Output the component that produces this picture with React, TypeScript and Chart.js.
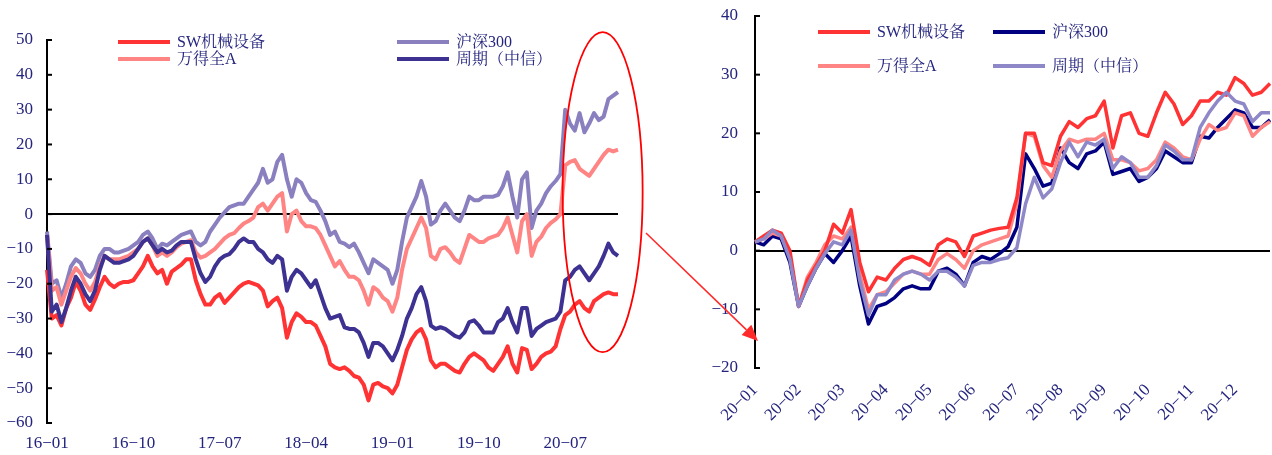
import React, { useEffect, useRef } from 'react';
import { Chart, registerables } from 'chart.js';

Chart.register(...registerables);

const FONT = "'Liberation Serif', 'Noto Serif CJK SC', 'Noto Sans CJK SC', serif";
const TEXT_COLOR = '#24247e';

const MONTHS = ['01', '02', '03', '04', '05', '06', '07', '08', '09', '10', '11', '12'];
const LEFT_YEARS = ['16', '17', '18', '19', '20'];
const LEFT_TICK_LABELS = ['16-01', '16-10', '17-07', '18-04', '19-01', '19-10', '20-07'];
const RIGHT_TICK_LABELS = MONTHS.map((m) => `20-${m}`);

const SERIES_NAMES = ['SW机械设备', '万得全A', '沪深300', '周期（中信）'];

// left panel: 2016-01 .. 2020-12, two readings per month
const leftLabels: string[] = LEFT_YEARS.flatMap((y) => MONTHS.flatMap((m) => [`${y}-${m}`, `${y}-${m}`]));
// right panel: 2020, five readings per month
const rightLabels: string[] = MONTHS.flatMap((m) => [`20-${m}`, `20-${m}`, `20-${m}`, `20-${m}`, `20-${m}`]);

const leftSW = [
  -16, -30, -29, -32, -27, -24, -19.5, -22, -26, -27.5,
  -24.5, -21, -18, -20, -21, -20, -19.5, -19.5, -19, -17,
  -15, -12, -15, -17, -16, -20, -16.5, -15.5, -14.5, -13,
  -13, -19, -23, -26, -26, -24, -23, -25.5, -24, -22.5,
  -21, -20, -19.5, -20, -20.5, -22, -26.5, -25, -24, -27,
  -35.5, -31, -28.5, -29.5, -31, -31, -32, -35, -38, -43,
  -44, -44.5, -44, -45, -46.5, -47, -49, -53.5, -49, -48.5,
  -49.5, -50, -51.5, -49, -44, -39, -36, -34, -33, -36,
  -42, -44, -43, -43, -44, -45, -45.5, -43, -41, -40,
  -41, -42, -44, -45, -43, -41, -38, -43, -45.5, -38.5,
  -39, -44.5, -43, -41, -40, -39.5, -38, -33, -29, -28,
  -26, -25, -27, -28, -25, -24, -23, -22.5, -23, -23,
];
const leftWindA = [
  -6, -22, -21, -26, -22, -18, -15.5, -17, -20, -22,
  -19.5, -15, -12, -13, -13, -13, -12.5, -12, -11, -10,
  -8, -7, -9, -12, -11, -12, -11, -9.5, -8.5, -8,
  -7.5, -11, -12.5, -12, -11, -10, -8.5, -7, -6, -5.5,
  -4, -2.7, -2, -1, 2, 3, 1, 3, 5, 6,
  -5, 0, 1, -2, -3.5, -3.5, -4, -6, -9, -12,
  -15, -13.5, -16, -18, -18, -19, -22, -26, -21, -22,
  -24, -25, -28, -24, -16, -10, -7, -4, -1, -4,
  -12, -13, -10, -9.5, -11, -13, -14, -10, -6, -7,
  -8, -8, -7, -6.5, -6, -4, -1, -6, -11, -2,
  0, -12, -8, -6.5, -4, -2.5, -1.5, 0, 14, 15,
  15.5, 13, 12, 11, 13, 15, 17, 18.5, 18, 18.5,
];
const leftHS300 = [
  -5, -20, -19, -24, -20, -15, -13, -14, -17, -18,
  -16, -12, -10, -10, -11, -11, -10.5, -10, -9, -8,
  -6, -5, -7, -10, -8.5, -9, -8, -7, -6, -5.5,
  -5, -8, -9, -8, -5, -3, -1, 0.5, 2, 2.5,
  3, 3, 5, 7, 9, 13, 9, 10, 15, 17,
  10, 5, 10, 9, 6, 4, 3.5, 1, -2, -6,
  -5, -8, -8.5, -9.5, -8.5, -11, -14, -17, -13, -14,
  -15, -16, -20, -16, -8, -1, 2, 5, 9.5, 5,
  -3, -2, 1, 3, 1, -1, -2, 1, 5, 4,
  4, 5, 5, 5, 5.5, 8, 12, 5, -1, 10,
  12, -4, 1, 3, 6, 8, 9.5, 11.5, 30, 26,
  24, 29, 23.5, 26, 29, 27, 28, 33, 34, 35,
];
const leftCycle = [
  -6, -28, -26, -31, -27, -22, -18, -20, -23, -25,
  -22, -16, -12, -13, -14, -14, -13.5, -13, -12, -10,
  -8, -7, -9, -11, -10, -11, -10.5, -9, -8, -8,
  -8, -13, -17, -19.5, -18, -15, -13, -12, -11.5, -10,
  -8, -7, -8, -8, -10, -11, -13, -14, -12, -13,
  -22, -18, -16, -17, -19, -21, -19, -23, -27, -30,
  -29.5, -29, -32.5, -33, -33, -34, -37, -41, -37, -37,
  -38, -40, -42, -39, -35, -30, -27, -23, -21, -25,
  -32, -33, -32.5, -33, -34, -35, -35.5, -34, -31, -30.5,
  -32, -34, -34, -34, -31, -30, -27, -31, -34, -27,
  -27, -35, -33, -32, -31, -30.5, -30, -28, -19, -18,
  -16, -15, -17, -19, -17, -15, -12, -8.5, -11, -12,
];

const rightSW = [
  1.5, 2.5, 3.5, 3, 0, -9.5, -5, -2.5, 0, 4.5,
  3, 7, -2, -7, -4.5, -5, -3, -1.5, -1, -1.5,
  -2.5, 1, 2, 1.5, -1, 2.5, 3, 3.5, 3.8, 4,
  9, 20, 20, 15, 14.5, 19.5, 22, 21, 22.5, 23,
  25.5, 17.5, 23, 23.5, 20, 19.5, 23.5, 27, 25, 21.5,
  23, 25.5, 25.5, 27, 26.5, 29.5, 28.5, 26.5, 27, 28.5,
];
const rightWindA = [
  1.5, 2, 3, 2.5, -1, -9.5, -4.5, -2, 1, 2.5,
  2, 4, -4, -10, -7.5, -7, -5.5, -4, -3.5, -4,
  -4, -1.5, -0.5, -1.5, -3, 0, 1, 1.5, 2, 2.5,
  8, 20, 19.5, 14.5, 12.5, 17, 19, 18.5, 19, 19,
  20, 15.5, 15.5, 15, 13.6, 14, 15.5, 18.5, 17.5, 16,
  15.5, 19, 21.5, 20.5, 21, 23.5, 23, 19.5, 21, 22,
];
const rightHS300 = [
  1.5, 1, 2.5, 2, -2, -9.5, -6, -3, -0.5, -2,
  0, 2.5, -6, -12.5, -9.5, -9, -8, -6.5, -6, -6.5,
  -6.5, -3.5, -3, -4, -6, -2, -1, -1.5, -0.5, 0.7,
  4, 16.5, 14, 11, 11.5, 17.5, 15, 14, 16.5, 17,
  18.5, 13, 13.5, 14, 11.8, 12.5, 14, 17, 16, 15,
  15, 19.5, 19.2, 21, 22.5, 24, 23.5, 21, 21, 22.3,
];
const rightCycle = [
  1.5, 2, 3.5, 2.5, -1.5, -9.5, -6, -3, -0.5, 1.5,
  1, 3.5, -5, -11, -7.5, -7.5, -5, -4, -3.5, -4,
  -5, -3.5, -3.5, -4.5, -6, -2.5, -2, -2, -1.5, -1.2,
  0.5, 8, 12.5, 9, 10.5, 15, 18.5, 16, 18.5, 18,
  19, 14, 16, 15, 12.5, 12.5, 14.5, 18, 17, 15.5,
  15.5, 21, 23.5, 25.5, 27, 25.5, 25, 22, 23.5, 23.5,
];

const minus = (s: string) => s.replace('-', '\u2212');

function monthTick(labels: string[], show: string[]) {
  return (_v: any, i: number) => {
    const l = labels[i];
    if (l === undefined) return '';
    if (i > 0 && labels[i - 1] === l) return '';
    return show.includes(l) ? minus(l) : '';
  };
}

const zeroPad = (s: any) => {
  s.paddingLeft = 0;
  s.paddingRight = 0;
  s.paddingTop = 0;
  s.paddingBottom = 0;
};

const decorPlugin = {
  id: 'decor',
  afterDraw(chart: any, _args: any, opts: any) {
    const ctx: CanvasRenderingContext2D = chart.ctx;
    const ys = chart.scales.y;
    const xs = chart.scales.x;
    const area = chart.chartArea;
    ctx.save();
    // inward tick marks
    ctx.strokeStyle = '#000';
    ctx.lineWidth = 2;
    ys.ticks.forEach((t: any) => {
      const py = ys.getPixelForValue(t.value);
      ctx.beginPath();
      ctx.moveTo(area.left, py);
      ctx.lineTo(area.left + opts.tickLen, py);
      ctx.stroke();
    });
    // legend, two columns
    const lg = opts.legend;
    chart.data.datasets.forEach((ds: any, i: number) => {
      const x0 = lg.cols[Math.floor(i / 2)];
      const y0 = lg.rows[i % 2];
      ctx.strokeStyle = ds.borderColor;
      ctx.lineWidth = 4;
      ctx.lineCap = 'butt';
      ctx.beginPath();
      ctx.moveTo(x0, y0);
      ctx.lineTo(x0 + lg.lineLen, y0);
      ctx.stroke();
      ctx.fillStyle = TEXT_COLOR;
      ctx.font = `${lg.fontSize}px ${FONT}`;
      ctx.textBaseline = 'middle';
      ctx.textAlign = 'left';
      ctx.fillText(ds.label, x0 + lg.lineLen + lg.gap, y0 + 1);
    });
    // highlight ellipse
    if (opts.ellipse) {
      const e = opts.ellipse;
      const cx = xs.getPixelForValue(e.index);
      const cy = ys.getPixelForValue(e.value);
      ctx.strokeStyle = e.color;
      ctx.lineWidth = e.width;
      ctx.beginPath();
      ctx.ellipse(cx, cy, e.rx, e.ry, 0, 0, Math.PI * 2);
      ctx.stroke();
    }
    // arrow
    if (opts.arrow) {
      const a = opts.arrow;
      const [x1, y1] = a.from;
      const [x2, y2] = a.to;
      const ang = Math.atan2(y2 - y1, x2 - x1);
      const bx = x2 - Math.cos(ang) * a.head;
      const by = y2 - Math.sin(ang) * a.head;
      ctx.strokeStyle = a.color;
      ctx.fillStyle = a.color;
      ctx.lineWidth = a.width;
      ctx.beginPath();
      ctx.moveTo(x1, y1);
      ctx.lineTo(bx, by);
      ctx.stroke();
      ctx.beginPath();
      ctx.moveTo(x2, y2);
      ctx.lineTo(bx + Math.sin(ang) * a.half, by - Math.cos(ang) * a.half);
      ctx.lineTo(bx - Math.sin(ang) * a.half, by + Math.cos(ang) * a.half);
      ctx.closePath();
      ctx.fill();
    }
    ctx.restore();
  },
};

function makeDataset(label: string, data: number[], color: string, order: number, width: number) {
  return {
    label,
    data,
    borderColor: color,
    backgroundColor: color,
    borderWidth: width,
    pointRadius: 0,
    tension: 0,
    fill: false,
    order,
    borderJoinStyle: 'round' as const,
  };
}

function makeConfig(p: any): any {
  return {
    type: 'line',
    data: { labels: p.labels, datasets: p.datasets },
    plugins: [decorPlugin],
    options: {
      animation: false,
      responsive: false,
      events: [],
      layout: { padding: p.padding },
      plugins: {
        legend: { display: false },
        tooltip: { enabled: false },
        decor: p.decor,
      },
      scales: {
        x: {
          type: 'category',
          offset: false,
          grid: { display: false, drawTicks: false },
          border: { display: false },
          ticks: {
            autoSkip: false,
            minRotation: p.rotation,
            maxRotation: p.rotation,
            padding: p.xPad,
            color: TEXT_COLOR,
            font: { family: FONT, size: p.fontSize },
            callback: monthTick(p.labels, p.tickLabels),
          },
          afterFit: (s: any) => {
            s.height = p.xHeight;
            zeroPad(s);
          },
        },
        y: {
          min: p.yMin,
          max: p.yMax,
          grid: {
            drawTicks: false,
            color: (c: any) => (c.tick && c.tick.value === 0 ? '#000' : 'rgba(0,0,0,0)'),
            lineWidth: 2,
          },
          border: { display: true, color: '#000', width: 2 },
          ticks: {
            stepSize: 10,
            padding: p.yPad,
            color: TEXT_COLOR,
            font: { family: FONT, size: p.fontSize },
            callback: (v: any) => minus(String(v)),
          },
          afterFit: (s: any) => {
            s.width = p.yWidth;
            zeroPad(s);
          },
        },
      },
    },
  };
}

export default function App() {
  const leftRef = useRef<HTMLCanvasElement>(null);
  const rightRef = useRef<HTMLCanvasElement>(null);

  useEffect(() => {
    const left = new Chart(
      leftRef.current as HTMLCanvasElement,
      makeConfig({
        labels: leftLabels,
        tickLabels: LEFT_TICK_LABELS,
        datasets: [
          makeDataset(SERIES_NAMES[0], leftSW, '#ff3333', 1, 4),
          makeDataset(SERIES_NAMES[1], leftWindA, '#ff8585', 2, 4),
          makeDataset(SERIES_NAMES[2], leftHS300, '#8a80c0', 3, 4),
          makeDataset(SERIES_NAMES[3], leftCycle, '#3d3192', 0, 4),
        ],
        padding: { left: 0, right: 654, top: 40, bottom: 0 },
        yMin: -60,
        yMax: 50,
        yWidth: 47,
        xHeight: 32,
        yPad: 14,
        xPad: 10,
        rotation: 0,
        fontSize: 17,
        decor: {
          tickLen: 5,
          legend: { cols: [118, 397], rows: [42, 59], lineLen: 52, gap: 7, fontSize: 16 },
          ellipse: { index: 115.8, value: 6.3, rx: 40, ry: 160, color: '#ff0000', width: 1.8 },
          arrow: { from: [646, 233], to: [758, 341], head: 16, half: 7, color: '#ff2a2a', width: 1.6 },
        },
      })
    );
    const right = new Chart(
      rightRef.current as HTMLCanvasElement,
      makeConfig({
        labels: rightLabels,
        tickLabels: RIGHT_TICK_LABELS,
        datasets: [
          makeDataset(SERIES_NAMES[0], rightSW, '#ff3333', 1, 3.5),
          makeDataset(SERIES_NAMES[1], rightWindA, '#ff8585', 2, 3.5),
          makeDataset(SERIES_NAMES[2], rightHS300, '#000080', 3, 3.5),
          makeDataset(SERIES_NAMES[3], rightCycle, '#8f88c8', 0, 3.5),
        ],
        padding: { left: 0, right: 2, top: 16, bottom: 0 },
        yMin: -20,
        yMax: 40,
        yWidth: 65,
        xHeight: 87,
        yPad: 17,
        xPad: 12,
        rotation: 45,
        fontSize: 17,
        decor: {
          tickLen: 5,
          legend: { cols: [128, 303], rows: [32, 66], lineLen: 52, gap: 7, fontSize: 16 },
        },
      })
    );
    return () => {
      left.destroy();
      right.destroy();
    };
  }, []);

  return (
    <div style={{ position: 'absolute', left: 0, top: 0, width: 1272, height: 455, background: '#fff', overflow: 'hidden' }}>
      <canvas
        ref={rightRef}
        width={582}
        height={455}
        style={{ position: 'absolute', left: 690, top: 0, width: 582, height: 455 }}
      />
      <canvas
        ref={leftRef}
        width={1272}
        height={455}
        style={{ position: 'absolute', left: 0, top: 0, width: 1272, height: 455 }}
      />
    </div>
  );
}
